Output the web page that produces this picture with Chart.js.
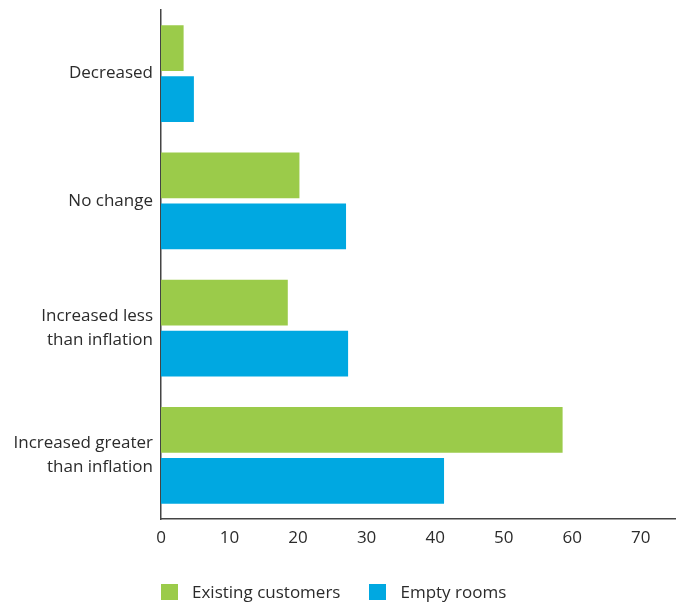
<!DOCTYPE html>
<html>
<head>
<meta charset="utf-8">
<script src="https://cdn.jsdelivr.net/npm/chart.js@4"></script>
<style>
  html, body { margin:0; padding:0; background:#fff; }
  #wrap { position:relative; width:680px; height:602px; }
  #legend { position:absolute; left:161px; top:580px; display:flex; align-items:center;
            font-family:'Open Sans', sans-serif; font-size:17px; color:#2b2b2b; }
  #legend .it { display:flex; align-items:center; margin-right:29px; }
  #legend .sw { width:17px; height:16px; margin-right:14px; display:inline-block; }
</style>
</head>
<body>
<div id="wrap">
  <canvas id="c" width="680" height="602"></canvas>
  <div id="legend"></div>
</div>
<script>
const CATEGORIES = [
  'Decreased',
  'No change',
  ['Increased less', 'than inflation'],
  ['Increased greater', 'than inflation'],
];
const EXISTING = [3.3, 20.2, 18.5, 58.6];
const EMPTY    = [4.8, 27.0, 27.3, 41.3];
const X_TICKS  = [0, 10, 20, 30, 40, 50, 60, 70];

const C = { green:'#9bcb4a', blue:'#00a8e1', text:'#2b2b2b', axis:'#444444' };
const FONT = { family:"'Open Sans', sans-serif", size:17 };

const series = [
  { label:'Existing customers', data:EXISTING, color:C.green },
  { label:'Empty rooms',        data:EMPTY,    color:C.blue  },
];

new Chart(document.getElementById('c').getContext('2d'), {
  type: 'bar',
  data: {
    labels: CATEGORIES,
    datasets: series.map(s => ({
      label: s.label, data: s.data, backgroundColor: s.color,
      borderWidth: 0, categoryPercentage: 0.8, barPercentage: 0.9,
    })),
  },
  options: {
    indexAxis: 'y', responsive: false, animation: false,
    layout: { padding: { top:10, right:5, bottom:53, left:0 } },
    plugins: { legend:{ display:false }, tooltip:{ enabled:false } },
    scales: {
      x: {
        min: 0, max: 75,
        grid: { display:false, drawTicks:false },
        border: { display:true, color:C.axis, width:1.5 },
        afterBuildTicks: s => { s.ticks = X_TICKS.map(v => ({ value:v })); },
        ticks: { font:FONT, color:C.text, padding:9 },
        afterFit: s => { s.height = 30; s.paddingLeft = 0; s.paddingRight = 0; },
      },
      y: {
        grid: { display:false, drawTicks:false },
        border: { display:true, color:C.axis, width:1.5 },
        ticks: { font:{ ...FONT, lineHeight:1.38 }, color:C.text, padding:8 },
        afterFit: s => { s.width = 161; s.paddingTop = 0; s.paddingBottom = 0; },
      },
    },
  },
});

document.getElementById('legend').innerHTML = series.map(s =>
  `<span class="it"><span class="sw" style="background:${s.color}"></span>${s.label}</span>`
).join('');
</script>
</body>
</html>
